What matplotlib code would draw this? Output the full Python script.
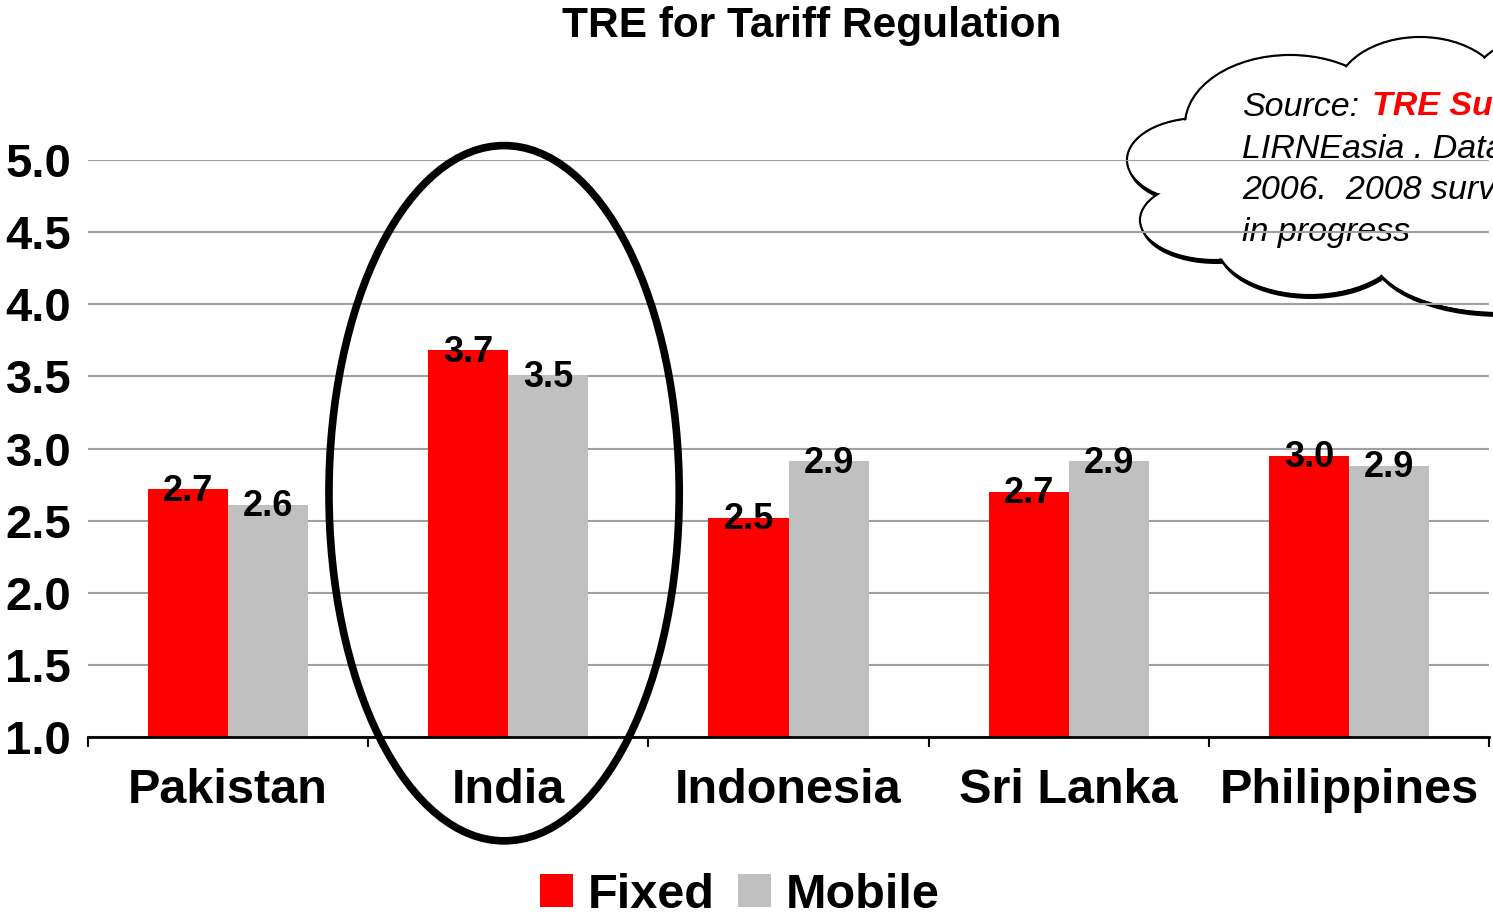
import numpy as np
import matplotlib.pyplot as plt
from matplotlib.patches import Ellipse

plt.rcParams['font.family'] = ['Liberation Sans', 'DejaVu Sans']

# Datos
countries = ['Pakistan', 'India', 'Indonesia', 'Sri Lanka', 'Philippines']
fixed = [2.72, 3.68, 2.52, 2.70, 2.95]
mobile = [2.61, 3.51, 2.91, 2.91, 2.88]
yticks = [1.0, 1.5, 2.0, 2.5, 3.0, 3.5, 4.0, 4.5, 5.0]

red = '#FF0000'
grey = '#C0C0C0'

W, H = 1493, 918
fig = plt.figure(figsize=(W / 100, H / 100), dpi=100)

# fondo en pixeles para la nube (queda detras de la rejilla)
bg = fig.add_axes([0, 0, 1, 1], zorder=0)
bg.set_xlim(0, W)
bg.set_ylim(H, 0)
bg.axis('off')

ax = fig.add_axes([88 / W, 1 - 737 / H, (1489 - 88) / W, (737 - 160) / H], zorder=1)
ax.patch.set_visible(False)

x = np.arange(len(countries))
bw = 0.2857
b1 = ax.bar(x - bw / 2, fixed, bw, color=red, label='Fixed', zorder=2)
b2 = ax.bar(x + bw / 2, mobile, bw, color=grey, label='Mobile', zorder=2)

for bars, vals in [(b1, fixed), (b2, mobile)]:
    for r, v in zip(bars, vals):
        ax.text(r.get_x() + r.get_width() / 2, v - 0.015, f'{v:.1f}', ha='center', va='center',
                fontsize=26, fontweight='bold', zorder=3)

ax.set_xlim(-0.5, len(countries) - 0.5)
ax.set_ylim(1, 5)
ax.set_yticks(yticks)
ax.set_yticklabels([f'{t:.1f}' for t in yticks], fontsize=34, fontweight='bold')
ax.yaxis.grid(True, color='#A0A0A0', linewidth=1.5)
ax.set_axisbelow(True)
ax.tick_params(axis='y', length=0, pad=12)

ax.set_xticks(x)
ax.set_xticklabels(countries, fontsize=35, fontweight='bold')
ax.set_xticks(np.arange(len(countries) + 1) - 0.5, minor=True)
ax.tick_params(axis='x', which='major', length=0, pad=22)
ax.tick_params(axis='x', which='minor', length=7, width=1.5, color='black')

for s in ['left', 'right', 'top']:
    ax.spines[s].set_visible(False)
ax.spines['bottom'].set_linewidth(2)

# elipse alrededor de India
ax.add_patch(Ellipse((0.985, 2.69), 1.25, 4.82, fill=False, edgecolor='black',
                     linewidth=5.5, clip_on=False, zorder=6))

fig.text(0.5435, 0.972, 'TRE for Tariff Regulation', ha='center', va='center',
         fontsize=30.5, fontweight='bold')

fig.legend(handles=[b1, b2], labels=['Fixed', 'Mobile'], loc='center',
           bbox_to_anchor=(0.4955, 0.025), ncol=2, frameon=False,
           prop={'size': 35, 'weight': 'bold'}, handlelength=0.68, handleheight=0.68,
           handletextpad=0.3, columnspacing=0.5, borderpad=0)

# nube
lobes = [(1200, 160, 146, 84), (1215, 220, 150, 80), (1310, 240, 190, 110),
         (1500, 250, 260, 126), (1290, 125, 210, 140), (1420, 95, 170, 116),
         (1545, 100, 160, 130)]
for cx, cy, w, h in lobes:
    bg.add_patch(Ellipse((cx + 1, cy + 4), w, h, facecolor='black', edgecolor='none', zorder=1))
for cx, cy, w, h in lobes:
    bg.add_patch(Ellipse((cx, cy), w, h, facecolor='white', edgecolor='black', linewidth=1.6, zorder=2))
for cx, cy, w, h in lobes:
    bg.add_patch(Ellipse((cx, cy), w - 3, h - 3, facecolor='white', edgecolor='none', zorder=3))
bg.add_patch(Ellipse((1340, 170), 330, 190, facecolor='white', edgecolor='none', zorder=3))

lines = ['LIRNEasia . Data from', '2006.  2008 survey', 'in progress']
bg.text(1242, 107, 'Source:', fontsize=24.5, style='italic', ha='left', va='center', zorder=4)
bg.text(1372, 107, 'TRE Survey by', fontsize=24.5, style='italic', fontweight='bold', color=red,
        ha='left', va='center', zorder=4)
for i, t in enumerate(lines):
    bg.text(1242, 149 + 42 * i, t, fontsize=24.5, style='italic', ha='left', va='center', zorder=4)

fig.savefig('out.png', dpi=100)
